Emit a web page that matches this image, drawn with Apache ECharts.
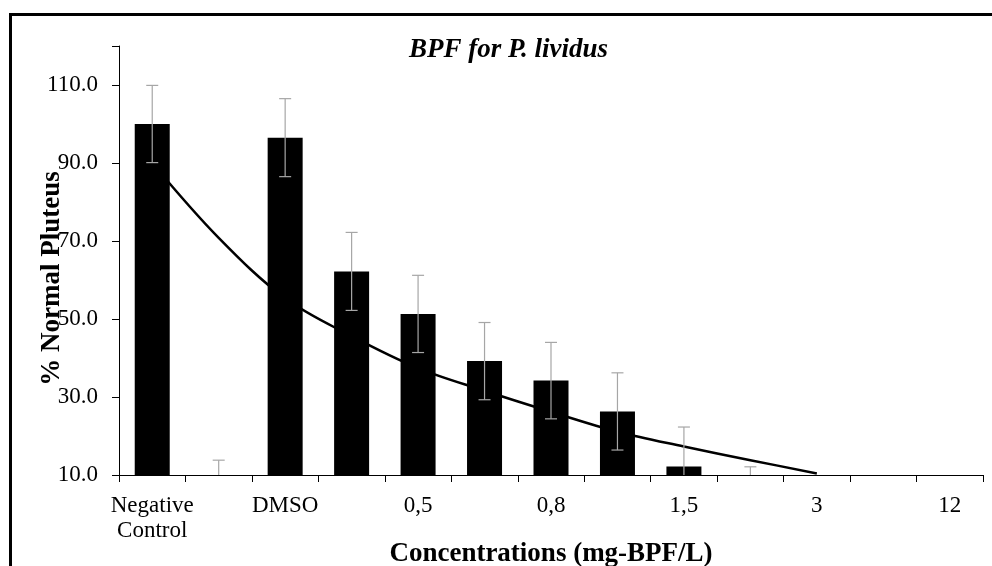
<!DOCTYPE html>
<html>
<head>
<meta charset="utf-8">
<script src="https://cdn.jsdelivr.net/npm/echarts@6/dist/echarts.min.js"></script>
<style>html,body{margin:0;padding:0;background:#fff}#c{width:992px;height:566px}</style>
</head>
<body>
<div id="c"></div>
<script>
// ---- data ----
var categories = ['Negative\nControl', '', 'DMSO', '', '0,5', '', '0,8', '', '1,5', '', '3', '', '12'];
var barValues = [100.0, 10.0, 96.5, 62.2, 51.3, 39.2, 34.2, 26.3, 12.2, 10.0, 10.0, 10.0, 10.0];
var errValues = [9.9, 3.8, 10.0, 10.0, 9.9, 9.9, 9.8, 9.9, 10.1, 2.1, 0, 0, 0];
var trendValues = [90.0, 70.8, 55.3, 45.6, 37.4, 31.6, 26.2, 21.1, 17.3, 13.8, 10.4, null, null];
var yTicks = { min: 10, max: 120, step: 20 };
var titleText = 'BPF for P. lividus';
var yName = '% Normal Pluteus';
var xName = 'Concentrations (mg-BPF/L)';

var serif = 'Liberation Serif';
var chart = echarts.init(document.getElementById('c'), null, { renderer: 'canvas' });

var errData = barValues.map(function (v, i) { return [i, v, errValues[i]]; });

chart.setOption({
  animation: false,
  backgroundColor: '#fff',
  title: {
    text: titleText,
    left: 404, top: 32,
    textStyle: { fontFamily: serif, fontSize: 27, fontWeight: 'bold', fontStyle: 'italic', color: '#000' }
  },
  graphic: [{
    type: 'rect', left: 8, top: 12, z: 100, silent: true,
    shape: { width: 1000, height: 600 },
    style: { fill: 'none', stroke: '#000', lineWidth: 3 }
  }],
  grid: { left: 119, right: 9, top: 46, bottom: 91, containLabel: false, outerBoundsMode: 'none' },
  xAxis: {
    type: 'category',
    data: categories,
    boundaryGap: true,
    axisLine: { lineStyle: { color: '#000', width: 1 } },
    axisTick: { show: true, interval: 0, length: 7, lineStyle: { color: '#000' } },
    axisLabel: { interval: 1, margin: 18, fontFamily: serif, fontSize: 23, color: '#000', lineHeight: 25 },
    name: xName, nameLocation: 'middle', nameGap: 66, nameMoveOverlap: false,
    nameTextStyle: { fontFamily: serif, fontSize: 27, fontWeight: 'bold', color: '#000' }
  },
  yAxis: {
    type: 'value',
    min: yTicks.min, max: yTicks.max, interval: yTicks.step,
    axisLine: { show: true, lineStyle: { color: '#000', width: 1 } },
    axisTick: { show: true, length: 7, lineStyle: { color: '#000' } },
    splitLine: { show: false },
    axisLabel: {
      margin: 21, fontFamily: serif, fontSize: 23, color: '#000',
      formatter: function (v) { return v > 110 ? '' : v.toFixed(1); }
    },
    name: yName, nameLocation: 'middle', nameGap: 53, nameRotate: 90, nameMoveOverlap: false,
    nameTextStyle: { fontFamily: serif, fontSize: 27, fontWeight: 'bold', color: '#000', padding: [0, 36, 0, 0] }
  },
  series: [
    {
      type: 'bar', data: barValues, barWidth: 35, barMinHeight: 2,
      itemStyle: { color: '#000' }, z: 2
    },
    {
      type: 'line', data: trendValues, smooth: 0.35, showSymbol: false, symbol: 'none',
      lineStyle: { color: '#000', width: 2.5 }, clip: true, z: 3, connectNulls: false
    },
    {
      type: 'custom', data: errData, z: 4, clip: true,
      renderItem: function (params, api) {
        var i = api.value(0), v = api.value(1), e = api.value(2);
        if (!e) return null;
        var hi = api.coord([i, v + e]);
        var lo = api.coord([i, v - e]);
        var w = 6;
        var st = { stroke: '#a6a6a6', lineWidth: 1.2 };
        return {
          type: 'group',
          children: [
            { type: 'line', shape: { x1: hi[0], y1: hi[1], x2: lo[0], y2: lo[1] }, style: st },
            { type: 'line', shape: { x1: hi[0] - w, y1: hi[1], x2: hi[0] + w, y2: hi[1] }, style: st },
            { type: 'line', shape: { x1: lo[0] - w, y1: lo[1], x2: lo[0] + w, y2: lo[1] }, style: st }
          ]
        };
      }
    }
  ]
});
</script>
</body>
</html>
